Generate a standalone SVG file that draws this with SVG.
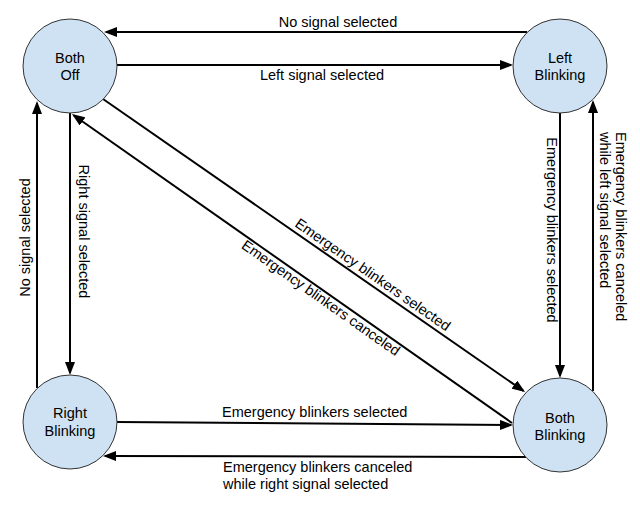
<svg xmlns="http://www.w3.org/2000/svg" width="640" height="506" viewBox="0 0 640 506">
<style>
.node circle{fill:#cfe2f3;stroke:#333;stroke-width:1}
text{font-family:"Liberation Sans",Arial,sans-serif;font-size:14.5px;fill:#000}
.node text{text-anchor:middle}
.edge{stroke:#000;stroke-width:2;fill:none;marker-end:url(#arr)}
.mid{text-anchor:middle}
</style>
<defs>
<marker id="arr" markerUnits="userSpaceOnUse" viewBox="0 0 13 10" markerWidth="13" markerHeight="10" refX="11" refY="5" orient="auto">
<path d="M0,0 L13,5 L0,10 z" fill="#000"/>
</marker>
</defs>
<rect width="640" height="506" fill="#fff"/>
<g id="connectors">
<path class="edge" d="M527,32 L106,32"/>
<path class="edge" d="M117,65 L511,65"/>
<path class="edge" d="M70,113 L70,373"/>
<path class="edge" d="M37,388 L37,103"/>
<path class="edge" d="M560,113 L560,376"/>
<path class="edge" d="M593,391 L593,102"/>
<path class="edge" d="M117,422 L511,425"/>
<path class="edge" d="M526,457 L105,456"/>
<path class="edge" d="M103,99 L523.4,390.9"/>
<path class="edge" d="M512,423 L73.6,115.2"/>
<text x="338" y="27" class="mid">No signal selected</text>
<text x="322" y="80" class="mid">Left signal selected</text>
<text transform="translate(79,231.5) rotate(90)" class="mid">Right signal selected</text>
<text transform="translate(30,237.5) rotate(-90)" class="mid">No signal selected</text>
<text transform="translate(547,230) rotate(90)" class="mid">Emergency blinkers selected</text>
<text transform="translate(616,132) rotate(90)">Emergency blinkers canceled</text>
<text transform="translate(600,132) rotate(90)">while left signal selected</text>
<text x="222" y="417">Emergency blinkers selected</text>
<text x="223" y="471.5">Emergency blinkers canceled</text>
<text x="223" y="488.5">while right signal selected</text>
<text transform="translate(370,278.7) rotate(34.8)" class="mid">Emergency blinkers selected</text>
<text transform="translate(318,302) rotate(35.1)" class="mid">Emergency blinkers canceled</text>
</g>
<g id="both-off" class="node">
<circle cx="70" cy="66" r="47"/>
<text x="70" y="63">Both</text>
<text x="70" y="80">Off</text>
</g>
<g id="left-blinking" class="node">
<circle cx="560" cy="66" r="47"/>
<text x="560" y="63">Left</text>
<text x="560" y="80">Blinking</text>
</g>
<g id="right-blinking" class="node">
<circle cx="70" cy="422" r="47"/>
<text x="70" y="418">Right</text>
<text x="70" y="435.5">Blinking</text>
</g>
<g id="both-blinking" class="node">
<circle cx="560" cy="425" r="47"/>
<text x="560" y="422.5">Both</text>
<text x="560" y="440">Blinking</text>
</g>
</svg>
